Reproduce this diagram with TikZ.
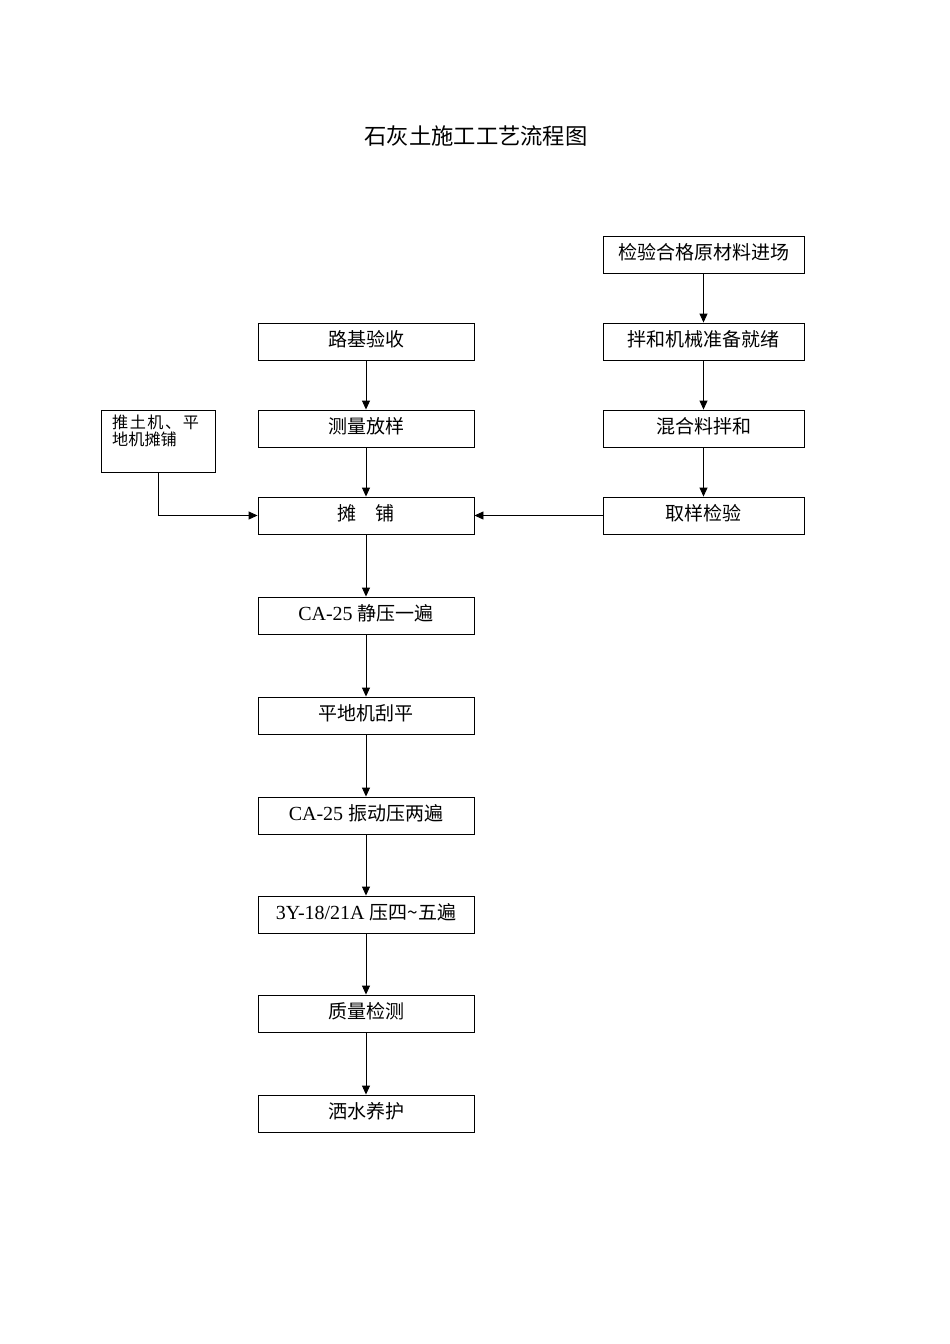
\documentclass[tikz,border=0pt]{standalone}
\usepackage{fontspec}
\setmainfont{Liberation Serif}
\newfontfamily\cjk{Noto Sans CJK SC}[Scale=0.95]
\usetikzlibrary{arrows.meta}
\tikzset{
  box/.style={draw, line width=0.9pt, minimum height=37pt, inner sep=0pt, font=\fontsize{20pt}{22pt}\selectfont},
  mainbox/.style={box, minimum width=216pt},
  rightbox/.style={box, minimum width=201pt},
  lbl/.style={inner sep=0pt, font=\fontsize{20pt}{22pt}\selectfont},
  arr/.style={line width=0.9pt, -{Triangle[length=9pt,width=8pt]}}
}
\begin{document}
\begin{tikzpicture}[x=1pt,y=-1pt]
\useasboundingbox (0,0) rectangle (950,1344);
\node[font=\fontsize{23.5pt}{25pt}\selectfont] (title) at (476,136) {\cjk 石灰土施工工艺流程图};

\node[rightbox] (jy) at (703.5,254.5) {};
\node[rightbox] (bh) at (703.5,341.5) {};
\node[rightbox] (hh) at (703.5,428.5) {};
\node[rightbox] (qy) at (703.5,515.5) {};

\node[mainbox] (lj) at (366,341.5) {};
\node[mainbox] (cl) at (366,428.5) {};
\node[mainbox] (tp) at (366,515.5) {};
\node[mainbox] (jya) at (366,615.5) {};
\node[mainbox] (pd) at (366,715.5) {};
\node[mainbox] (zd) at (366,815.5) {};
\node[mainbox] (sy) at (366,914.5) {};
\node[mainbox] (zl) at (366,1013.5) {};
\node[mainbox] (ss) at (366,1113.5) {};

\node[lbl] (tjy) at ([yshift=2.5pt]jy.center) {\cjk 检验合格原材料进场};
\node[lbl] (tbh) at ([yshift=2.5pt]bh.center) {\cjk 拌和机械准备就绪};
\node[lbl] (thh) at ([yshift=2.5pt]hh.center) {\cjk 混合料拌和};
\node[lbl] (tqy) at ([yshift=2.5pt]qy.center) {\cjk 取样检验};
\node[lbl] (tlj) at ([yshift=2.5pt]lj.center) {\cjk 路基验收};
\node[lbl] (tcl) at ([yshift=2.5pt]cl.center) {\cjk 测量放样};
\node[lbl] (ttp) at ([yshift=2.5pt]tp.center) {\cjk 摊\hspace{1em}铺};
\node[lbl] (tjya) at ([yshift=2.5pt]jya.center) {CA-25 {\cjk 静压一遍}};
\node[lbl] (tpd) at ([yshift=2.5pt]pd.center) {\cjk 平地机刮平};
\node[lbl] (tzd) at ([yshift=2.5pt]zd.center) {CA-25 {\cjk 振动压两遍}};
\node[lbl] (tsy) at ([yshift=2.5pt]sy.center) {3Y-18/21A {\cjk 压四\textasciitilde 五遍}};
\node[lbl] (tzl) at ([yshift=2.5pt]zl.center) {\cjk 质量检测};
\node[lbl] (tss) at ([yshift=2.5pt]ss.center) {\cjk 洒水养护};

\node[draw, line width=0.9pt, minimum width=114pt, minimum height=62pt, inner sep=0pt] (tt) at (158,441) {};
\node[anchor=north west, inner sep=0pt, font=\fontsize{17pt}{17pt}\selectfont, align=left] (ttx) at (112,415) {\cjk 推\hspace{1.5pt}土\hspace{1.5pt}机\hspace{1.5pt}、\hspace{1.5pt}平\\[0pt]\cjk 地机摊铺};

\draw[arr] (jy) -- (bh);
\draw[arr] (bh) -- (hh);
\draw[arr] (hh) -- (qy);
\draw[arr] (lj) -- (cl);
\draw[arr] (cl) -- (tp);
\draw[arr] (tp) -- (jya);
\draw[arr] (jya) -- (pd);
\draw[arr] (pd) -- (zd);
\draw[arr] (zd) -- (sy);
\draw[arr] (sy) -- (zl);
\draw[arr] (zl) -- (ss);
\draw[arr] (qy) -- (tp);
\draw[arr] (tt.south) |- (tp.west);
\end{tikzpicture}
\end{document}
